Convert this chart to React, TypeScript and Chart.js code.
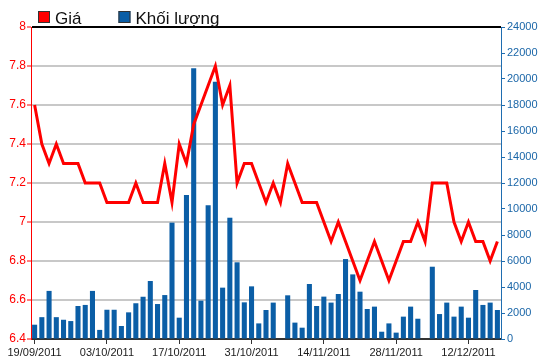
import React, { useEffect, useRef } from 'react';
import { Chart, registerables } from 'chart.js';

Chart.register(...registerables);

const dates: string[] = [
  '19/09/2011', '20/09/2011', '21/09/2011', '22/09/2011', '23/09/2011',
  '26/09/2011', '27/09/2011', '28/09/2011', '29/09/2011', '30/09/2011',
  '03/10/2011', '04/10/2011', '05/10/2011', '06/10/2011', '07/10/2011',
  '10/10/2011', '11/10/2011', '12/10/2011', '13/10/2011', '14/10/2011',
  '17/10/2011', '18/10/2011', '19/10/2011', '20/10/2011', '21/10/2011',
  '24/10/2011', '25/10/2011', '26/10/2011', '27/10/2011', '28/10/2011',
  '31/10/2011', '01/11/2011', '02/11/2011', '03/11/2011', '04/11/2011',
  '07/11/2011', '08/11/2011', '09/11/2011', '10/11/2011', '11/11/2011',
  '14/11/2011', '15/11/2011', '16/11/2011', '17/11/2011', '18/11/2011',
  '21/11/2011', '22/11/2011', '23/11/2011', '24/11/2011', '25/11/2011',
  '28/11/2011', '29/11/2011', '30/11/2011', '01/12/2011', '02/12/2011',
  '05/12/2011', '06/12/2011', '07/12/2011', '08/12/2011', '09/12/2011',
  '12/12/2011', '13/12/2011', '14/12/2011', '15/12/2011', '16/12/2011',
];

const priceValues: number[] = [
  7.6, 7.4, 7.3, 7.4, 7.3, 7.3, 7.3, 7.2, 7.2, 7.2,
  7.1, 7.1, 7.1, 7.1, 7.2, 7.1, 7.1, 7.1, 7.3, 7.1,
  7.4, 7.3, 7.5, 7.6, 7.7, 7.8, 7.6, 7.7, 7.2, 7.3,
  7.3, 7.2, 7.1, 7.2, 7.1, 7.3, 7.2, 7.1, 7.1, 7.1,
  7.0, 6.9, 7.0, 6.9, 6.8, 6.7, 6.8, 6.9, 6.8, 6.7,
  6.8, 6.9, 6.9, 7.0, 6.9, 7.2, 7.2, 7.2, 7.0, 6.9,
  7.0, 6.9, 6.9, 6.8, 6.9,
];

const volumeValues: (number | null)[] = [
  1100, 1680, 3700, 1680, 1480, 1380, 2540, 2620, 3700, 700,
  2250, 2250, 1000, 2050, 2750, 3250, 4460, 2690, 3380, 8950,
  1640, 11080, 20820, 2950, 10280, 19790, 3950, 9330, 5900, 2820,
  4050, 1200, 2230, 2800, null, 3360, 1260, 870, 4230, 2540,
  3260, 2800, 3460, 6150, 4970, 3640, 2310, 2490, 560, 1200,
  490, 1720, 2490, 1560, null, 5560, 1920, 2800, 1720, 2490,
  1640, 3770, 2620, 2800, 2230,
];

const seriesNames: string[] = ['Giá', 'Khối lượng'];
const priceAxisRange: number[] = [6.4, 8, 0.2];
const volumeAxisRange: number[] = [0, 24000, 2000];
const labelEvery = 10;

const FONT = '"Liberation Sans", Arial, sans-serif';
const RED = '#ff0000';
const BLUE = '#0b5ea6';
const AXIS_BLUE = '#1f6db0';

const legendPlugin = {
  id: 'customLegend',
  afterDraw(chart: any) {
    const ctx = chart.ctx as CanvasRenderingContext2D;
    ctx.save();
    ctx.font = '17px ' + FONT;
    ctx.textBaseline = 'alphabetic';
    ctx.textAlign = 'left';
    let x = 38;
    chart.data.datasets.forEach((ds: any) => {
      ctx.fillStyle = ds.legendColor;
      ctx.fillRect(x, 11, 12, 12);
      ctx.strokeStyle = '#333333';
      ctx.lineWidth = 1;
      ctx.strokeRect(x + 0.5, 11.5, 11, 11);
      ctx.fillStyle = '#111111';
      ctx.fillText(ds.label, x + 17, 24);
      x += 17 + ctx.measureText(ds.label).width + 37;
    });
    ctx.restore();
  },
};

export default function App() {
  const canvasRef = useRef<HTMLCanvasElement | null>(null);

  useEffect(() => {
    document.body.style.margin = '0';
    const canvas = canvasRef.current;
    if (!canvas) return;
    const chart = new Chart(canvas, {
      type: 'bar',
      data: {
        labels: dates,
        datasets: [
          {
            type: 'line',
            label: seriesNames[0],
            data: priceValues,
            yAxisID: 'y',
            borderColor: RED,
            backgroundColor: RED,
            borderWidth: 3,
            pointRadius: 0,
            tension: 0,
            order: 0,
            legendColor: RED,
          } as any,
          {
            type: 'bar',
            label: seriesNames[1],
            data: volumeValues,
            yAxisID: 'y1',
            backgroundColor: BLUE,
            borderWidth: 0,
            categoryPercentage: 1,
            barPercentage: 0.7,
            order: 1,
            legendColor: BLUE,
          } as any,
        ],
      },
      options: {
        responsive: false,
        animation: false,
        devicePixelRatio: 1,
        layout: { padding: { top: 27, left: 0, right: 0, bottom: 0 } },
        plugins: {
          legend: { display: false },
          tooltip: { enabled: false },
        },
        scales: {
          x: {
            type: 'category',
            offset: true,
            grid: {
              display: true,
              drawOnChartArea: false,
              drawTicks: true,
              offset: false,
              tickLength: 5,
              tickWidth: 1,
              tickColor: (c: any) => (c.index % labelEvery === 0 ? '#333333' : 'rgba(0,0,0,0)'),
            },
            border: { display: true, color: '#333333', width: 1 },
            ticks: {
              autoSkip: false,
              maxRotation: 0,
              minRotation: 0,
              padding: 2,
              color: '#1a1a1a',
              font: { size: 11, family: FONT },
              callback: function (this: any, value: any, index: number) {
                return index % labelEvery === 0 ? this.getLabelForValue(value) : '';
              },
            },
            afterFit: (s: any) => {
              s.height = 25;
            },
          },
          y: {
            type: 'linear',
            position: 'left',
            min: priceAxisRange[0],
            max: priceAxisRange[1],
            ticks: {
              stepSize: priceAxisRange[2],
              color: RED,
              padding: 1,
              font: { size: 12, family: FONT },
              callback: (v: any) => String(Math.round(Number(v) * 10) / 10),
            },
            grid: {
              color: (c: any) => {
                const v = c.tick ? c.tick.value : 0;
                if (Math.abs(v - priceAxisRange[1]) < 1e-6) return '#000000';
                if (Math.abs(v - priceAxisRange[0]) < 1e-6) return '#333333';
                return '#c8c8c8';
              },
              lineWidth: 2,
              drawTicks: true,
              tickLength: 4,
              tickWidth: 1,
              tickColor: RED,
            },
            border: { display: true, color: RED, width: 1 },
            afterFit: (s: any) => {
              s.width = 31;
            },
          },
          y1: {
            type: 'linear',
            position: 'right',
            min: volumeAxisRange[0],
            max: volumeAxisRange[1],
            ticks: {
              stepSize: volumeAxisRange[2],
              color: '#1a66a8',
              padding: 2,
              font: { size: 11, family: FONT },
              callback: (v: any) => String(v),
            },
            grid: {
              drawOnChartArea: false,
              drawTicks: true,
              tickLength: 4,
              tickWidth: 1,
              tickColor: AXIS_BLUE,
            },
            border: { display: true, color: AXIS_BLUE, width: 1 },
            afterFit: (s: any) => {
              s.width = 49;
            },
          },
        },
      },
      plugins: [legendPlugin],
    });
    return () => {
      chart.destroy();
    };
  }, []);

  return (
    <div style={{ width: 550, height: 364, background: '#ffffff' }}>
      <canvas ref={canvasRef} width={550} height={364} style={{ display: 'block' }} />
    </div>
  );
}
